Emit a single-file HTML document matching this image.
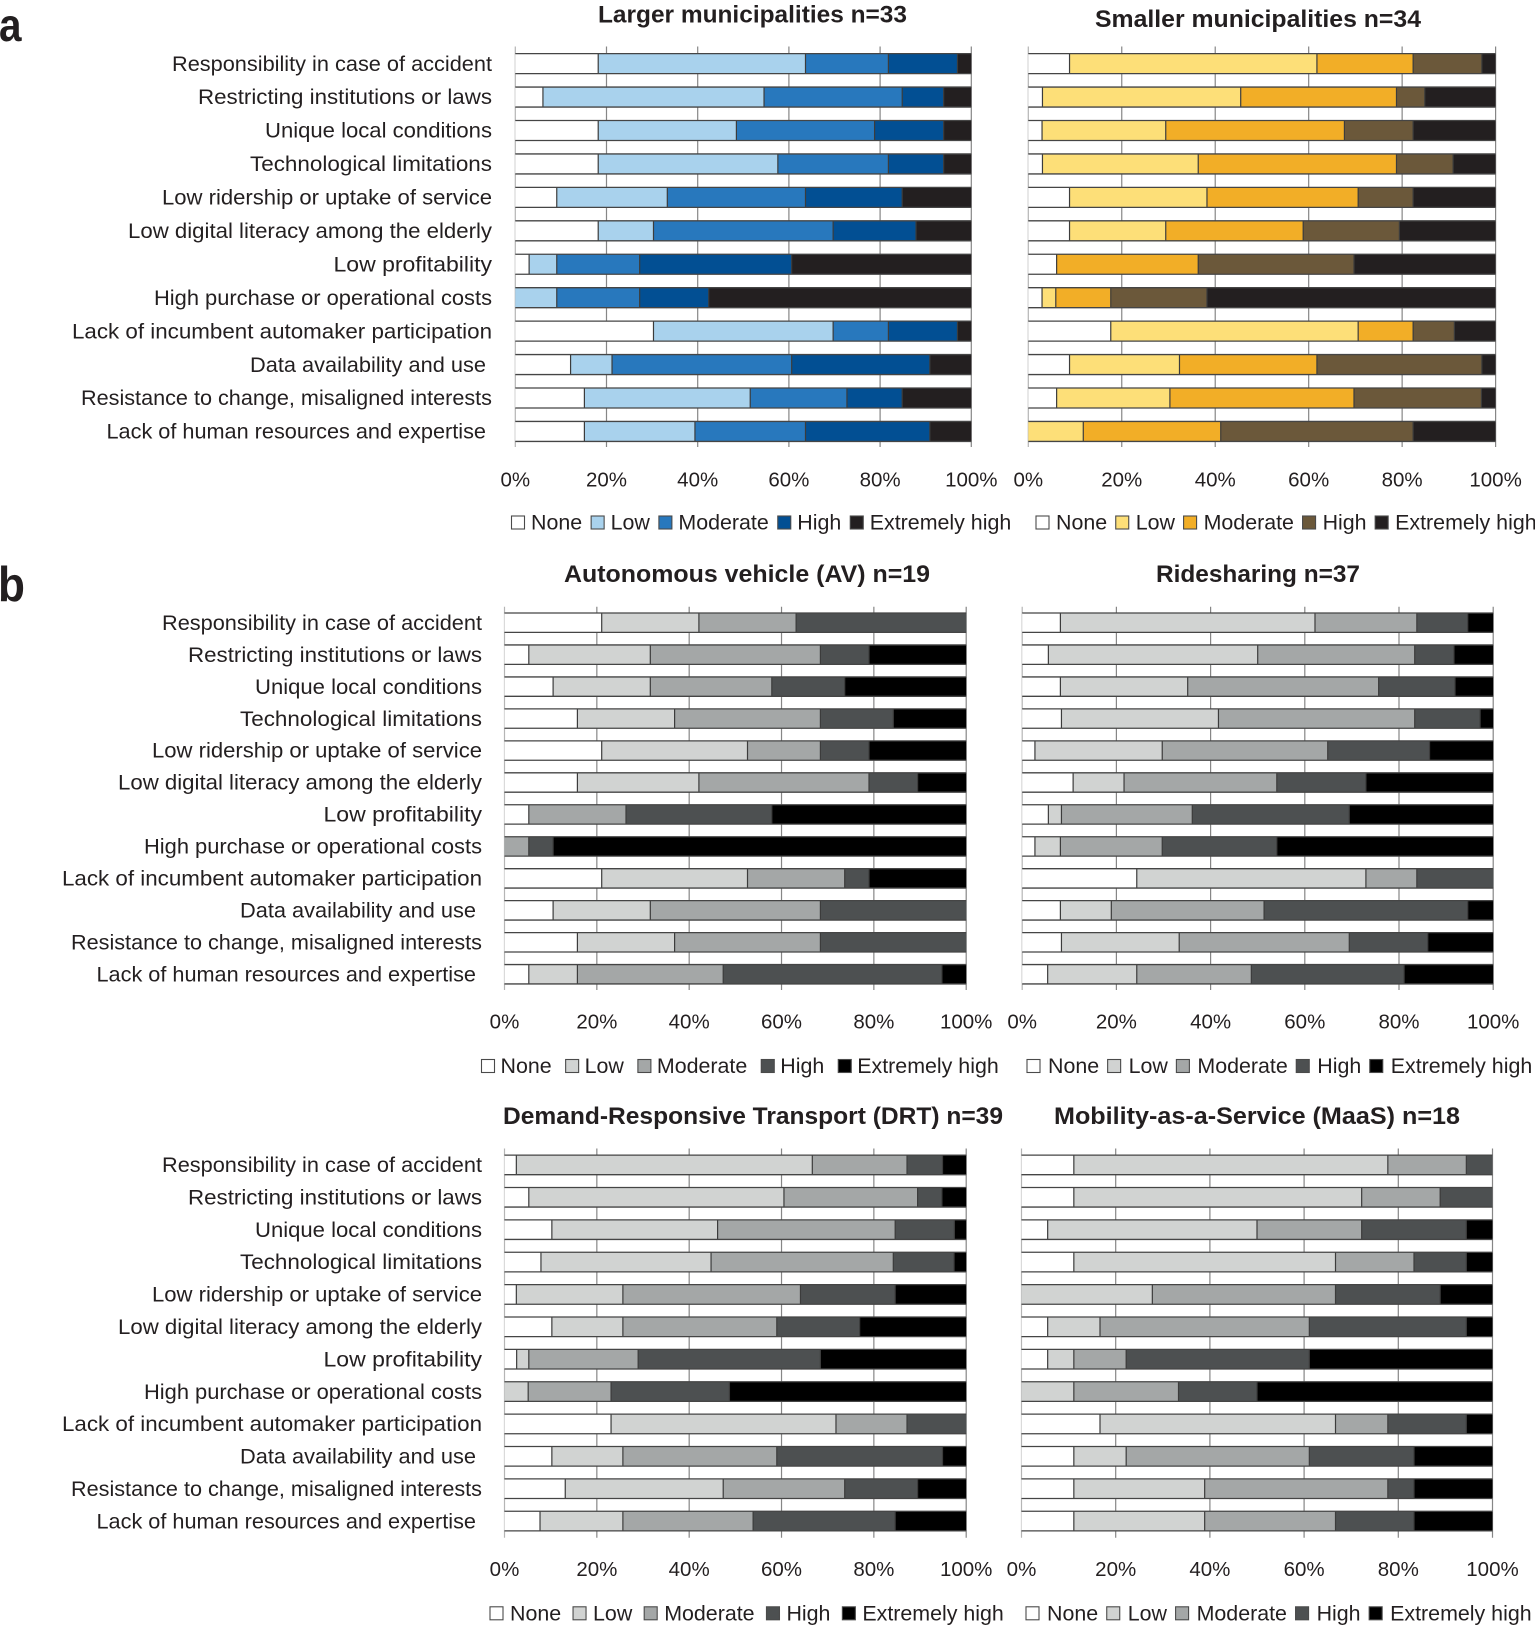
<!DOCTYPE html>
<html lang="en">
<head>
<meta charset="utf-8">
<title>Perceived barriers by municipality size and mobility service</title>
<style>
html,body{margin:0;padding:0;background:#fff;width:1535px;height:1636px;overflow:hidden}
svg{display:block}
text{font-family:"Liberation Sans",Arial,sans-serif;fill:#231f20;white-space:pre}
</style>
</head>
<body>
<svg id="figure" xmlns="http://www.w3.org/2000/svg" width="1535" height="1636" viewBox="0 0 1535 1636">
<rect width="1535" height="1636" fill="#ffffff"/>
<text transform="translate(-1 41) scale(.88 1)" font-size="46" font-weight="700">a</text>
<text transform="translate(-2 601) scale(.9 1)" font-size="49" font-weight="700">b</text>
</svg>
<script>
const categories = [
  "Responsibility in case of accident",
  "Restricting institutions or laws",
  "Unique local conditions",
  "Technological limitations",
  "Low ridership or uptake of service",
  "Low digital literacy among the elderly",
  "Low profitability",
  "High purchase or operational costs",
  "Lack of incumbent automaker participation",
  "Data availability and use ",
  "Resistance to change, misaligned interests",
  "Lack of human resources and expertise "
];
const levels = ["None", "Low", "Moderate", "High", "Extremely high"];
const tickValues = [0, 20, 40, 60, 80, 100];
const tickLabels = ["0%", "20%", "40%", "60%", "80%", "100%"];

const largerCounts = [
  [6,15,6,5,1],[2,16,10,3,2],[6,10,10,5,2],[6,13,8,4,2],[3,8,10,7,5],[6,4,13,6,4],
  [1,2,6,11,13],[0,3,6,5,19],[10,13,4,5,1],[4,3,13,10,3],[5,12,7,4,5],[5,8,8,9,3]
];
const smallerCounts = [
  [3,18,7,5,1],[1,14,11,2,5],[1,9,13,5,6],[1,11,14,4,3],[3,10,11,4,6],[3,7,10,7,7],
  [2,0,10,11,10],[1,1,4,7,21],[6,18,4,3,3],[3,8,10,12,1],[2,8,13,9,1],[0,4,10,14,6]
];
const avCounts = [
  [4,4,4,7,0],[1,5,7,2,4],[2,4,5,3,5],[3,4,6,3,3],[4,6,3,2,4],[3,5,7,2,2],
  [1,0,4,6,8],[0,0,1,1,17],[4,6,4,1,4],[2,4,7,6,0],[3,4,6,6,0],[1,2,6,9,1]
];
const ridesharingCounts = [
  [3,20,8,4,2],[2,16,12,3,3],[3,10,15,6,3],[3,12,15,5,1],[1,10,13,8,5],[4,4,12,7,10],
  [2,1,10,12,11],[1,2,8,9,17],[9,18,4,6,0],[3,4,12,16,2],[3,9,13,6,5],[2,7,9,12,7]
];
const drtCounts = [
  [1,25,8,3,2],[2,21,11,2,2],[4,14,15,5,1],[3,14,15,5,1],[1,9,15,8,6],[4,6,13,7,9],
  [1,1,9,15,12],[0,2,7,10,20],[9,19,6,5,0],[4,6,13,14,2],[5,13,10,6,4],[3,7,11,12,6]
];
const maasCounts = [
  [2,12,3,1,0],[2,11,3,2,0],[1,8,4,4,1],[2,10,3,2,1],[0,5,7,4,2],[1,2,8,6,1],
  [1,1,2,7,7],[0,2,4,3,9],[3,9,2,3,1],[2,2,7,4,3],[2,5,7,1,3],[2,5,5,3,3]
];

const bluePalette = ["#ffffff", "#a9d2ed", "#2878bd", "#024f93", "#231f20"];
const yellowPalette = ["#ffffff", "#fddf78", "#f2ae27", "#6b583a", "#231f20"];
const grayPalette = ["#ffffff", "#d1d3d2", "#a4a7a7", "#4d5051", "#000000"];

/* typographic fit: rendered advance of each label in the narrower reference face */
const labelFit = {
  "Responsibility in case of accident": 320,
  "Restricting institutions or laws": 294,
  "Unique local conditions": 227,
  "Technological limitations": 242,
  "Low ridership or uptake of service": 330,
  "Low digital literacy among the elderly": 364,
  "Low profitability": 158.5,
  "High purchase or operational costs": 338,
  "Lack of incumbent automaker participation": 420,
  "Data availability and use ": 242,
  "Resistance to change, misaligned interests": 411,
  "Lack of human resources and expertise ": 385.5
};

const NS = "http://www.w3.org/2000/svg";
const figure = document.getElementById("figure");

function make(parent, tag, attrs, content) {
  const el = document.createElementNS(NS, tag);
  for (const key in attrs) el.setAttribute(key, attrs[key]);
  if (content !== undefined) el.textContent = content;
  parent.appendChild(el);
  return el;
}

function drawPanel(p) {
  const slug = p.slug;
  const group = make(figure, "g", {});
  
  

  const xScale = pct => p.x0 + (p.x1 - p.x0) * pct / 100;
  const yBand = row => p.top + p.pitch * row;

  const title = make(group, "text", {
    x: p.titleCenter, y: p.titleBase, "font-size": 24.5, "font-weight": 700, "text-anchor": "middle",
    textLength: p.titleWidth, lengthAdjust: "spacingAndGlyphs"
  }, p.title);
  
  

  tickValues.forEach((value, i) => {
    const grid = make(group, "line", {
      x1: xScale(value), x2: xScale(value), y1: p.axisTop, y2: p.axisBottom,
      stroke: value === 0 ? "#b5b5b5" : "#868686", "stroke-width": 1.2
    });
    
    

    const tick = make(group, "text", {
      x: xScale(value), y: p.tickBase, "font-size": 20.5, "text-anchor": "middle"
    }, tickLabels[i]);
    
    
  });

  p.counts.forEach((row, r) => {
    const y = yBand(r);
    const total = row.reduce((a, b) => a + b, 0);
    let cumulative = 0;
    const seps = [];
    row.forEach((count, s) => {
      if (count <= 0) return;
      const start = cumulative / total * 100;
      cumulative += count;
      const end = cumulative / total * 100;
      const seg = make(group, "rect", {
        x: xScale(start), y: y, width: xScale(end) - xScale(start), height: p.barH, fill: p.palette[s]
      });
      
      
      if (end < 99.99) seps.push(xScale(end));
    });
    seps.forEach(sx => {
      const sep = make(group, "line", {
        x1: sx, x2: sx, y1: y, y2: y + p.barH, stroke: "#3c3c3c", "stroke-width": 1.2
      });
      
      
    });
    [y, y + p.barH].forEach(ly => {
      const edge = make(group, "line", {
        x1: xScale(0), x2: xScale(100), y1: ly, y2: ly, stroke: "#454545", "stroke-width": 1.3
      });
      
      
    });
    if (p.labelRight) {
      const label = make(group, "text", {
        x: p.labelRight, y: y + p.barH / 2 + 7.2, "font-size": 21.7, "text-anchor": "end",
        textLength: labelFit[categories[r]], lengthAdjust: "spacingAndGlyphs"
      }, categories[r]);
      
      
    }
  });

  let lx = p.legendX;
  levels.forEach((level, s) => {
    const swatch = make(group, "rect", {
      x: lx, y: p.legendBase - 13.5, width: 13, height: 13,
      fill: p.palette[s], stroke: "#4a4a4a", "stroke-width": 1.1
    });
    
    
    const text = make(group, "text", {
      x: lx + p.legendTextOffset, y: p.legendBase, "font-size": 21.4
    }, level);
    
    
    lx += p.legendTextOffset + text.getComputedTextLength() + p.legendGap;
  });
}

drawPanel({ slug: "larger-municipalities", title: "Larger municipalities n=33", titleWidth: 309, counts: largerCounts, palette: bluePalette,
  x0: 515.3, x1: 971.3, top: 53.6, pitch: 33.44, barH: 20, axisTop: 46.5, axisBottom: 447,
  titleCenter: 752.5, titleBase: 22.5, tickBase: 486.5, legendBase: 529.5, legendX: 511.5,
  legendTextOffset: 19.5, legendGap: 9, labelRight: 492 });
drawPanel({ slug: "smaller-municipalities", title: "Smaller municipalities n=34", titleWidth: 326, counts: smallerCounts, palette: yellowPalette,
  x0: 1028.3, x1: 1495.6, top: 53.6, pitch: 33.44, barH: 20, axisTop: 46.5, axisBottom: 447,
  titleCenter: 1258, titleBase: 27, tickBase: 486.5, legendBase: 529.5, legendX: 1036,
  legendTextOffset: 20, legendGap: 8.6 });
drawPanel({ slug: "autonomous-vehicle", title: "Autonomous vehicle (AV) n=19", titleWidth: 366, counts: avCounts, palette: grayPalette,
  x0: 504.5, x1: 966.2, top: 613, pitch: 31.96, barH: 19.4, axisTop: 606.8, axisBottom: 990,
  titleCenter: 747, titleBase: 582, tickBase: 1028.6, legendBase: 1073, legendX: 481.5,
  legendTextOffset: 19, legendGap: 14, labelRight: 482 });
drawPanel({ slug: "ridesharing", title: "Ridesharing n=37", titleWidth: 204, counts: ridesharingCounts, palette: grayPalette,
  x0: 1022.2, x1: 1493.2, top: 613, pitch: 31.96, barH: 19.4, axisTop: 606.8, axisBottom: 990,
  titleCenter: 1258, titleBase: 582, tickBase: 1028.6, legendBase: 1073, legendX: 1027,
  legendTextOffset: 21, legendGap: 8.5 });
drawPanel({ slug: "demand-responsive-transport", title: "Demand-Responsive Transport (DRT) n=39", titleWidth: 500, counts: drtCounts, palette: grayPalette,
  x0: 504.5, x1: 966.2, top: 1155.1, pitch: 32.38, barH: 19.6, axisTop: 1148.5, axisBottom: 1537.8,
  titleCenter: 753, titleBase: 1124, tickBase: 1576.2, legendBase: 1620.3, legendX: 490,
  legendTextOffset: 20, legendGap: 11.9, labelRight: 482 });
drawPanel({ slug: "mobility-as-a-service", title: "Mobility-as-a-Service (MaaS) n=18", titleWidth: 406, counts: maasCounts, palette: grayPalette,
  x0: 1021.5, x1: 1492.5, top: 1155.1, pitch: 32.38, barH: 19.6, axisTop: 1148.5, axisBottom: 1537.8,
  titleCenter: 1257, titleBase: 1124, tickBase: 1576.2, legendBase: 1620.3, legendX: 1026,
  legendTextOffset: 21, legendGap: 8.6 });
</script>
</body>
</html>
